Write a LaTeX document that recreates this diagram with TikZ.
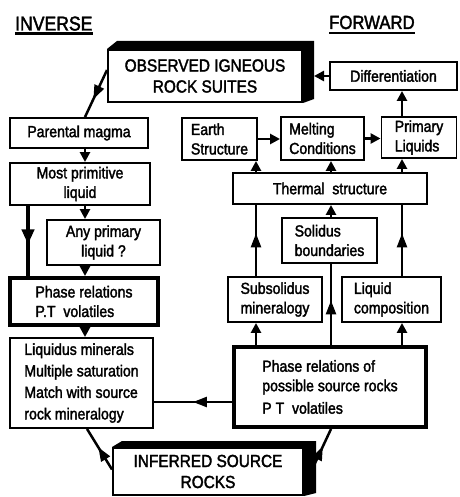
\documentclass[tikz,border=0pt]{standalone}
\usepackage{fontspec}
\setmainfont[FakeStretch=0.88,FakeBold=2]{Liberation Sans}
\usetikzlibrary{arrows.meta,decorations.markings}
\begin{document}
\begin{tikzpicture}[x=1pt,y=-1pt,
  box/.style={draw, line width=1.9pt, fill=white, inner sep=3pt, font=\fontsize{16}{19.5}\selectfont},
  thickbox/.style={box, line width=4pt},
  bigbox/.style={box, line width=2pt, font=\fontsize{17.5}{21}\selectfont},
  head/.style={inner sep=0pt, anchor=base west, font=\fontsize{20}{22}\selectfont},
  uline/.style={line width=2.8pt},
  arr/.style={line width=2.5pt, -{Triangle[length=10pt,width=10pt]}},
  midarr/.style={line width=2.5pt, postaction={decorate},
    decoration={markings, mark=at position #1 with {\arrow{Triangle[length=14pt,width=10pt]}}}},
  midarr/.default=0.6,
  shadow/.style={fill=black}
]
\useasboundingbox (0,0) rectangle (459,497);

% column / row helpers
\coordinate (cL) at (85,0);
\coordinate (cT) at (28,0);
\coordinate (cE) at (256,0);
\coordinate (cM) at (331,0);
\coordinate (cP) at (402,0);
\coordinate (rQ) at (0,402);

% headings
\node[head] (inv) at (15,30.5) {INVERSE};
\draw[uline] ([yshift=-3pt]inv.base west) -- ([yshift=-3pt]inv.base east);
\node[head, font=\fontsize{19}{22}\selectfont] (fwd) at (329,29) {FORWARD};
\draw[uline] ([yshift=-4pt]fwd.base west) -- ([yshift=-4pt]fwd.base east);

% observed igneous rock suites
\node[bigbox, minimum width=194pt, minimum height=52pt, align=center] (obs) at (205,76) {OBSERVED IGNEOUS\\ROCK SUITES};
\fill[shadow] (obs.north west) -- ([shift={(10pt,8pt)}]obs.north west) -- ([shift={(11pt,8pt)}]obs.north east)
  -- ([shift={(11pt,4pt)}]obs.south east) -- (obs.south east) -- (obs.north east) -- cycle;

% left column
\node[box, minimum width=138pt, minimum height=30pt] (par) at (79,133) {Parental magma};
\node[box, minimum width=140pt, minimum height=42pt, align=center] (prim) at (80,184) {Most primitive\\liquid};
\node[box, minimum width=113pt, minimum height=45pt, align=center] (any) at (103.5,242.5) {Any primary\\liquid ?};
\node[thickbox, minimum width=148pt, minimum height=47pt, align=left] (phl) at (84,301.5) {Phase relations\\P.T\ \ volatiles};
\node[box, minimum width=143pt, minimum height=90pt, align=left, font=\fontsize{16}{21.5}\selectfont] (liq) at (81.5,383)
  {Liquidus minerals\\Multiple saturation\\Match with source\\rock mineralogy};

% right column
\node[box, minimum width=127pt, minimum height=28pt] (dif) at (393.5,76) {Differentiation};
\node[box, minimum width=75pt, minimum height=42pt, align=left] (ear) at (219.5,139) {Earth\\Structure};
\node[box, minimum width=83pt, minimum height=43pt, align=left] (mel) at (322.5,138.5) {Melting\\Conditions};
\node[box, minimum width=75pt, minimum height=41pt, align=left] (pri) at (419,137.5) {Primary\\Liquids};
\node[box, minimum width=194pt, minimum height=31pt] (the) at (330,188.5) {Thermal\ \ structure};
\node[box, minimum width=95pt, minimum height=45pt, align=left] (sol) at (329.5,240.5) {Solidus\\boundaries};
\node[box, minimum width=94pt, minimum height=45pt, align=left] (sub) at (275,299.5) {Subsolidus\\mineralogy};
\node[box, minimum width=99pt, minimum height=45pt, align=left] (lco) at (391.5,299.5) {Liquid\\composition};
\node[thickbox, minimum width=192pt, minimum height=80pt, align=left] (phr) at (330,387)
  {Phase relations of\\possible source rocks\\[3pt]P T\ \ volatiles};

% inferred source rocks
\node[bigbox, minimum width=190pt, minimum height=47pt, align=center] (inf) at (208,471.5) {INFERRED SOURCE\\ROCKS};
\fill[shadow] (inf.north west) -- ([shift={(10pt,6pt)}]inf.north west) -- ([shift={(12pt,6pt)}]inf.north east)
  -- ([shift={(12pt,3pt)}]inf.south east) -- (inf.south east) -- (inf.north east) -- cycle;

% inverse connectors
\draw[midarr=0.62] ([yshift=6pt]obs.west) -- (par.north -| cL);
\draw[arr] (par.south -| cL) -- (prim.north -| cL);
\draw[arr] (prim.south -| cL) -- (any.north -| cL);
\draw[arr] (any.south -| cL) -- (phl.north -| cL);
\draw[line width=4pt, postaction={decorate},
  decoration={markings, mark=at position 0.55 with {\arrow{Triangle[length=15pt,width=12pt]}}}]
  (prim.south -| cT) -- (phl.north -| cT);
\draw[arr] (phl.south -| cL) -- (liq.north -| cL);
\draw[midarr=0.55] ([yshift=2pt]inf.west) -- ([xshift=78pt]liq.south west);

% forward connectors
\draw[arr] (dif.west) -- ([xshift=11pt]obs.east);
\draw[arr] (pri.north -| cP) -- (dif.south -| cP);
\draw[arr] (ear.east) -- (mel.west |- ear.east);
\draw[arr] (mel.east) -- (pri.west |- mel.east);
\draw[arr] (the.north -| cE) -- (ear.south -| cE);
\draw[arr] (the.north -| cM) -- (mel.south -| cM);
\draw[arr] (the.north -| cP) -- (pri.south -| cP);
\draw[midarr] (sub.north -| cE) -- (the.south -| cE);
\draw[arr] (sol.north -| cM) -- (the.south -| cM);
\draw[midarr] (lco.north -| cP) -- (the.south -| cP);
\draw[arr] (phr.north -| cE) -- (sub.south -| cE);
\draw[midarr=0.55] (phr.north -| cM) -- (sol.south -| cM);
\draw[arr] (phr.north -| cP) -- (lco.south -| cP);
\draw[midarr=0.5] (phr.west |- rQ) -- (liq.east |- rQ);
\draw[midarr=0.55] ([shift={(9pt,4pt)}]inf.east) -- (phr.south -| cM);
\end{tikzpicture}
\end{document}
